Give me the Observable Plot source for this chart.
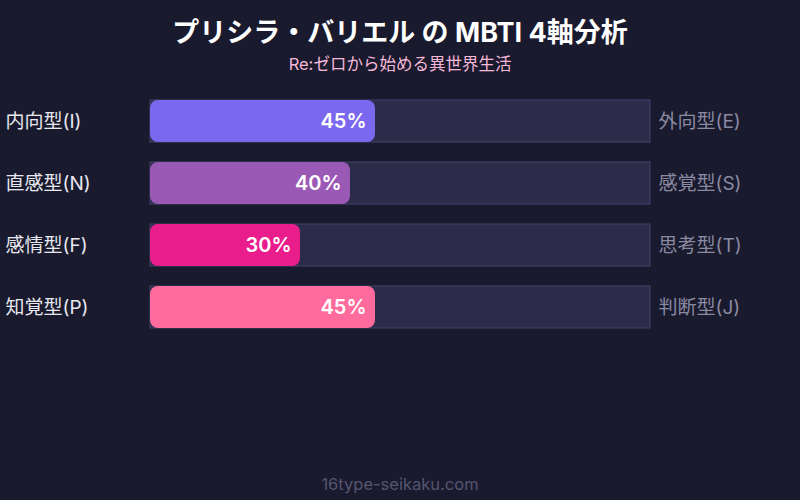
<!DOCTYPE html>
<html>
<head>
<meta charset="utf-8">
<script src="https://cdn.jsdelivr.net/npm/d3@7"></script>
<script src="https://cdn.jsdelivr.net/npm/@observablehq/plot@0.6"></script>
<style>
  html, body { margin: 0; padding: 0; background: #1a1a2e; width: 800px; height: 500px; overflow: hidden; font-family: Inter, "Noto Sans CJK JP", sans-serif; }
  #title { padding-top: 12px; line-height: 42px; height: 42px; text-align: center; color: #ffffff; font-size: 27px; font-weight: bold; }
  #subtitle { line-height: 20px; height: 20px; margin-bottom: 6px; text-align: center; color: #f5b8d8; font-size: 16.5px; }
  #footer { padding-top: 4px; line-height: 40px; text-align: center; color: #55556f; font-size: 16.5px; }
</style>
</head>
<body>
<div id="title">プリシラ・バリエル の MBTI 4軸分析</div>
<div id="subtitle">Re:ゼロから始める異世界生活</div>
<div id="chart"></div>
<div id="footer">16type-seikaku.com</div>
<script>
const leftLabels = ["内向型(I)", "直感型(N)", "感情型(F)", "知覚型(P)"];
const rightLabels = ["外向型(E)", "感覚型(S)", "思考型(T)", "判断型(J)"];
const values = [45, 40, 30, 45];
const colors = ["#7b68ee", "#9b59b6", "#e91e8c", "#ff6b9d"];

const data = leftLabels.map((l, i) => ({left: l, right: rightLabels[i], value: values[i], color: colors[i]}));

const chart = Plot.plot({
  width: 800,
  height: 380,
  marginLeft: 150,
  marginRight: 150,
  marginTop: 20,
  marginBottom: 0,
  style: {background: "#1a1a2e", fontFamily: "Inter, 'Noto Sans CJK JP', sans-serif"},
  x: {domain: [0, 100], axis: null},
  y: {domain: leftLabels, range: [20, 248], paddingInner: 20/62, paddingOuter: 0, axis: null},
  marks: [
    Plot.barX(data, {x1: 0, x2: 100, y: "left", fill: "#2d2b4a", stroke: "#45436a", strokeWidth: 1}),
    Plot.barX(data, {x1: 0, x2: "value", y: "left", fill: "color", rx: 8}),
    Plot.text(data, {x: "value", y: "left", text: d => d.value + "%", textAnchor: "end", dx: -9, fill: "#ffffff", fontSize: 20, fontWeight: "600"}),
    Plot.text(data, {x: 0, y: "left", text: "left", textAnchor: "start", dx: -145, fill: "#e8e8f0", fontSize: 19}),
    Plot.text(data, {x: 100, y: "left", text: "right", textAnchor: "start", dx: 8, fill: "#8a8aa2", fontSize: 19})
  ]
});
document.getElementById("chart").appendChild(chart);
</script>
</body>
</html>
